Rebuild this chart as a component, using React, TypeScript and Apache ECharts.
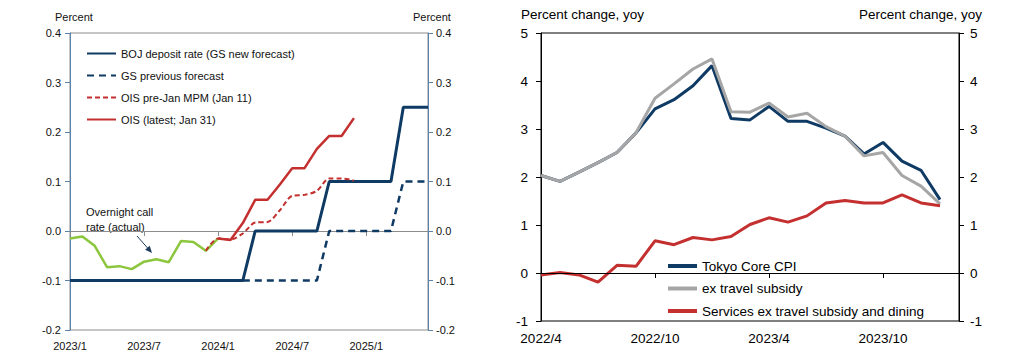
import React, { useEffect, useRef } from "react";
import * as echarts from "echarts";

const FONT = "'Liberation Sans', Arial, sans-serif";

// Left chart: BOJ policy rate
const leftMonths = [
  "2023/1", "2023/2", "2023/3", "2023/4", "2023/5", "2023/6", "2023/7", "2023/8", "2023/9", "2023/10", "2023/11", "2023/12",
  "2024/1", "2024/2", "2024/3", "2024/4", "2024/5", "2024/6", "2024/7", "2024/8", "2024/9", "2024/10", "2024/11", "2024/12",
  "2025/1", "2025/2", "2025/3", "2025/4", "2025/5", "2025/6",
];
const bojNew = [
  -0.1, -0.1, -0.1, -0.1, -0.1, -0.1, -0.1, -0.1, -0.1, -0.1, -0.1, -0.1, -0.1, -0.1, -0.1,
  0, 0, 0, 0, 0, 0,
  0.1, 0.1, 0.1, 0.1, 0.1, 0.1,
  0.25, 0.25, 0.25,
];
const gsPrev = [
  null, null, null, null, null, null, null, null, null, null, null, null, null, null,
  -0.1, -0.1, -0.1, -0.1, -0.1, -0.1, -0.1,
  0, 0, 0, 0, 0, 0,
  0.1, 0.1, 0.1,
];
const oisPre = [
  null, null, null, null, null, null, null, null, null, null, null,
  -0.04, -0.015, -0.017, -0.005, 0.017, 0.018, 0.042, 0.071, 0.073, 0.081, 0.106, 0.106, 0.102,
  null, null, null, null, null, null,
];
const oisLatest = [
  null, null, null, null, null, null, null, null, null, null, null, null,
  -0.015, -0.018, 0.016, 0.063, 0.063, 0.094, 0.127, 0.127, 0.166, 0.192, 0.192, 0.228,
  null, null, null, null, null, null,
];
const callRate = [-0.015, -0.011, -0.03, -0.073, -0.071, -0.077, -0.062, -0.057, -0.063, -0.02, -0.022, -0.04, -0.015];

// Right chart: Tokyo CPI
const rightMonths = [
  "2022/4", "2022/5", "2022/6", "2022/7", "2022/8", "2022/9", "2022/10", "2022/11", "2022/12",
  "2023/1", "2023/2", "2023/3", "2023/4", "2023/5", "2023/6", "2023/7", "2023/8", "2023/9", "2023/10", "2023/11", "2023/12",
  "2024/1", "2024/2",
];
const tokyoCore = [2.03, 1.91, 2.1, 2.3, 2.51, 2.92, 3.42, 3.61, 3.9, 4.32, 3.22, 3.19, 3.47, 3.16, 3.16, 3.02, 2.85, 2.48, 2.72, 2.33, 2.14, 1.53];
const exTravel = [2.03, 1.91, 2.1, 2.3, 2.51, 2.92, 3.64, 3.94, 4.25, 4.46, 3.36, 3.35, 3.54, 3.25, 3.33, 3.05, 2.85, 2.44, 2.51, 2.03, 1.81, 1.44];
const services = [-0.04, 0.01, -0.04, -0.19, 0.16, 0.14, 0.67, 0.59, 0.74, 0.69, 0.76, 1.01, 1.15, 1.06, 1.19, 1.46, 1.51, 1.46, 1.46, 1.63, 1.46, 1.4];

const leftNames = ["BOJ deposit rate (GS new forecast)", "GS previous forecast", "OIS pre-Jan MPM (Jan 11)", "OIS (latest; Jan 31)"];
const rightNames = ["Tokyo Core CPI", "ex travel subsidy", "Services ex travel subsidy and dining"];

const NAVY = "#0e3a64";
const RED = "#c3302f";
const GREEN = "#8cc63e";
const GREY = "#a6a6a6";
const LBLUE = "#5a82aa";
const LGREY = "#8c8c8c";

const fmt1 = (v: number) => (Math.abs(v) < 1e-9 ? "0.0" : v.toFixed(1));

export default function App() {
  const ref = useRef<HTMLDivElement>(null);
  useEffect(() => {
    document.body.style.margin = "0";
    const chart = echarts.init(ref.current!, null, { renderer: "svg" });
    const leftY = (pos: string, margin: number) => ({
      type: "value",
      gridIndex: 0,
      position: pos,
      min: -0.2,
      max: 0.4,
      interval: 0.1,
      axisLine: { show: true, lineStyle: { color: LBLUE, width: 1 } },
      axisTick: { show: true, length: 5, lineStyle: { color: LBLUE } },
      axisLabel: { formatter: fmt1, fontSize: 11, color: "#111", margin, fontFamily: FONT },
      splitLine: { show: false },
    });
    const rightY = (pos: string, margin: number) => ({
      type: "value",
      gridIndex: 1,
      position: pos,
      min: -1,
      max: 5,
      interval: 1,
      axisLine: { show: true, lineStyle: { color: "#000", width: 1 } },
      axisTick: { show: true, length: 5, lineStyle: { color: "#000" } },
      axisLabel: { fontSize: 13.5, color: "#000", margin, fontFamily: FONT },
      splitLine: { show: false },
    });
    const option: any = {
      animation: false,
      textStyle: { fontFamily: FONT },
      grid: [
        { left: 70, top: 33, width: 358, height: 297, show: true, borderColor: LGREY, borderWidth: 1, backgroundColor: "transparent" },
        { left: 541, top: 33, width: 418, height: 288, show: true, borderColor: "#000", borderWidth: 1, backgroundColor: "transparent" },
      ],
      xAxis: [
        {
          type: "category",
          gridIndex: 0,
          data: leftMonths,
          boundaryGap: false,
          axisLine: { lineStyle: { color: LGREY } },
          axisTick: { interval: 5, length: 5, lineStyle: { color: LGREY } },
          axisLabel: { interval: 5, fontSize: 11, color: "#111", margin: 10, fontFamily: FONT },
          splitLine: { show: false },
        },
        {
          type: "category",
          gridIndex: 1,
          data: rightMonths,
          boundaryGap: false,
          axisLine: { lineStyle: { color: "#000" } },
          axisTick: { interval: 5, length: 5, lineStyle: { color: "#000" } },
          axisLabel: { interval: 5, fontSize: 13.5, color: "#000", margin: 10, fontFamily: FONT },
          splitLine: { show: false },
        },
      ],
      yAxis: [leftY("left", 9), leftY("right", 8), rightY("left", 13), rightY("right", 11)],
      legend: [
        {
          data: leftNames,
          orient: "vertical",
          left: 86,
          top: 48,
          padding: 0,
          itemWidth: 29,
          itemHeight: 12,
          itemGap: 11,
          selectedMode: false,
          itemStyle: { opacity: 0 },
          textStyle: { fontSize: 11, color: "#111", fontFamily: FONT },
        },
        {
          data: rightNames,
          orient: "vertical",
          left: 666,
          top: 259,
          padding: 0,
          itemWidth: 29,
          itemHeight: 14,
          itemGap: 8.5,
          selectedMode: false,
          itemStyle: { opacity: 0 },
          lineStyle: { width: 4 },
          textStyle: { fontSize: 13.5, color: "#000", fontFamily: FONT },
        },
      ],
      series: [
        {
          name: leftNames[1], type: "line", xAxisIndex: 0, yAxisIndex: 0, data: gsPrev, symbol: "none",
          lineStyle: { color: NAVY, width: 2.5, type: [7, 5] }, itemStyle: { color: NAVY },
        },
        {
          name: leftNames[0], type: "line", xAxisIndex: 0, yAxisIndex: 0, data: bojNew, symbol: "none",
          lineStyle: { color: NAVY, width: 3 }, itemStyle: { color: NAVY },
        },
        {
          name: "Overnight call rate (actual)", type: "line", xAxisIndex: 0, yAxisIndex: 0, data: callRate, symbol: "none",
          lineStyle: { color: GREEN, width: 2.5 }, itemStyle: { color: GREEN },
        },
        {
          name: leftNames[3], type: "line", xAxisIndex: 0, yAxisIndex: 0, data: oisLatest, symbol: "none",
          lineStyle: { color: RED, width: 2.5 }, itemStyle: { color: RED },
        },
        {
          name: leftNames[2], type: "line", xAxisIndex: 0, yAxisIndex: 0, data: oisPre, symbol: "none", smooth: 0.3,
          lineStyle: { color: RED, width: 2, type: [5, 3] }, itemStyle: { color: RED },
        },
        {
          name: rightNames[0], type: "line", xAxisIndex: 1, yAxisIndex: 2, data: tokyoCore, symbol: "none",
          lineStyle: { color: NAVY, width: 3 }, itemStyle: { color: NAVY },
        },
        {
          name: rightNames[1], type: "line", xAxisIndex: 1, yAxisIndex: 2, data: exTravel, symbol: "none",
          lineStyle: { color: GREY, width: 3 }, itemStyle: { color: GREY },
        },
        {
          name: rightNames[2], type: "line", xAxisIndex: 1, yAxisIndex: 2, data: services, symbol: "none",
          lineStyle: { color: RED, width: 3 }, itemStyle: { color: RED },
          markLine: {
            silent: true, symbol: "none", label: { show: false },
            lineStyle: { color: "#000", width: 1, type: "solid" },
            data: [{ yAxis: 0 }],
          },
        },
      ],
      graphic: [
        { type: "text", left: 55, top: 11, style: { text: "Percent", fontSize: 11, fill: "#111", fontFamily: FONT } },
        { type: "text", left: 413, top: 11, style: { text: "Percent", fontSize: 11, fill: "#111", fontFamily: FONT } },
        { type: "text", left: 521, top: 7, style: { text: "Percent change, yoy", fontSize: 13.5, fill: "#000", fontFamily: FONT } },
        { type: "text", right: 33, top: 7, style: { text: "Percent change, yoy", fontSize: 13.5, fill: "#000", fontFamily: FONT } },
        { type: "text", left: 86, top: 204, style: { text: "Overnight call\nrate (actual)", fontSize: 11, lineHeight: 15, fill: "#111", fontFamily: FONT } },
        { type: "line", shape: { x1: 137, y1: 236, x2: 148, y2: 248.5 }, style: { stroke: "#1f3b5c", lineWidth: 1 } },
        { type: "polygon", shape: { points: [[152, 253], [145.1, 249.7], [149.7, 245.7]] }, style: { fill: "#1f3b5c" } },
      ],
    };
    chart.setOption(option);
    return () => chart.dispose();
  }, []);
  return <div ref={ref} style={{ width: 1015, height: 362 }} />;
}
